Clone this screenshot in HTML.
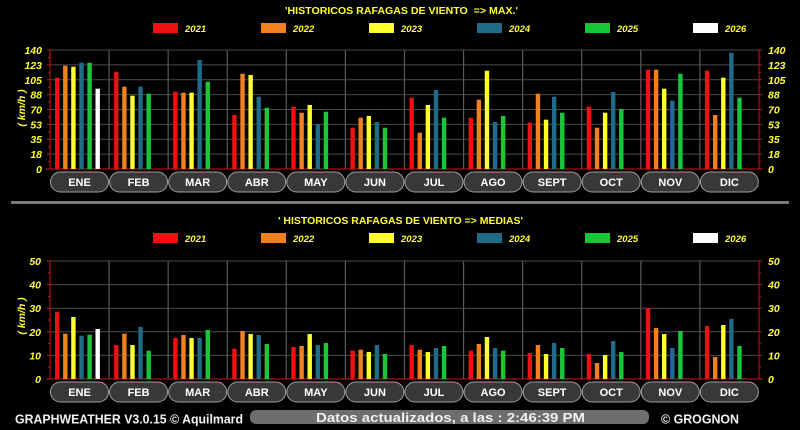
<!DOCTYPE html>
<html><head><meta charset="utf-8"><style>
html,body{margin:0;padding:0;background:#000;}
svg{display:block;}
.t{font-family:"Liberation Sans",sans-serif;font-weight:bold;fill:#ffff33;}
.ax{font-family:"Liberation Sans",sans-serif;font-weight:bold;font-style:italic;font-size:10.5px;fill:#ffff33;}
.lg{font-family:"Liberation Sans",sans-serif;font-weight:bold;font-style:italic;font-size:9.5px;fill:#ffff33;}
.ml{font-family:"Liberation Sans",sans-serif;font-weight:bold;font-size:11px;fill:#ffffff;text-anchor:middle;}
.ft{font-family:"Liberation Sans",sans-serif;font-weight:bold;font-size:12.5px;fill:#f0f0f0;}
.g line{stroke:#4a4a4a;stroke-width:1;}
.r{fill:#ee1111}.o{fill:#f08020}.y{fill:#ffff30}.b{fill:#206a8a}.gr{fill:#18c838}.w{fill:#ffffff}
.pill{fill:#383838;stroke:#a0a0a0;stroke-width:1;}
</style></head><body>
<svg width="800" height="430" viewBox="0 0 800 430" xmlns="http://www.w3.org/2000/svg">
<rect width="800" height="430" fill="#000"/>

<!-- ===== TOP CHART ===== -->
<text class="t" x="285" y="14" font-size="10.5" textLength="233" lengthAdjust="spacingAndGlyphs" xml:space="preserve">'HISTORICOS RAFAGAS DE VIENTO  =&gt; MAX.'</text>
<g>
<rect x="153" y="23" width="25" height="10" fill="#ee1111"/><text class="lg" x="185" y="32">2021</text>
<rect x="261" y="23" width="25" height="10" fill="#f08020"/><text class="lg" x="293" y="32">2022</text>
<rect x="369" y="23" width="25" height="10" fill="#ffff30"/><text class="lg" x="401" y="32">2023</text>
<rect x="477" y="23" width="25" height="10" fill="#206a8a"/><text class="lg" x="509" y="32">2024</text>
<rect x="585" y="23" width="25" height="10" fill="#18c838"/><text class="lg" x="617" y="32">2025</text>
<rect x="693" y="23" width="25" height="10" fill="#ffffff"/><text class="lg" x="725" y="32">2026</text>
</g>
<g class="g">
<line x1="50" y1="50" x2="759" y2="50"/>
<line x1="50" y1="64.9" x2="759" y2="64.9"/>
<line x1="50" y1="79.75" x2="759" y2="79.75"/>
<line x1="50" y1="94.6" x2="759" y2="94.6"/>
<line x1="50" y1="109.5" x2="759" y2="109.5"/>
<line x1="50" y1="124.4" x2="759" y2="124.4"/>
<line x1="50" y1="139.25" x2="759" y2="139.25"/>
<line x1="50" y1="154.1" x2="759" y2="154.1"/>
</g>
<g stroke="#5a5a5a" stroke-width="1.2">
<line x1="109.08" y1="50" x2="109.08" y2="169"/>
<line x1="168.16" y1="50" x2="168.16" y2="169"/>
<line x1="227.24" y1="50" x2="227.24" y2="169"/>
<line x1="286.32" y1="50" x2="286.32" y2="169"/>
<line x1="345.4" y1="50" x2="345.4" y2="169"/>
<line x1="404.48" y1="50" x2="404.48" y2="169"/>
<line x1="463.56" y1="50" x2="463.56" y2="169"/>
<line x1="522.64" y1="50" x2="522.64" y2="169"/>
<line x1="581.72" y1="50" x2="581.72" y2="169"/>
<line x1="640.8" y1="50" x2="640.8" y2="169"/>
<line x1="699.88" y1="50" x2="699.88" y2="169"/>
</g>
<!-- axes -->
<g stroke="#d01010" stroke-width="1">
<line x1="50" y1="50" x2="50" y2="169"/>
<line x1="759" y1="50" x2="759" y2="169"/>
<line x1="46" y1="169" x2="763" y2="169"/>
<line x1="47" y1="50" x2="50" y2="50"/><line x1="48" y1="57.4" x2="50" y2="57.4"/>
<line x1="47" y1="64.9" x2="50" y2="64.9"/><line x1="48" y1="72.3" x2="50" y2="72.3"/>
<line x1="47" y1="79.75" x2="50" y2="79.75"/><line x1="48" y1="87.2" x2="50" y2="87.2"/>
<line x1="47" y1="94.6" x2="50" y2="94.6"/><line x1="48" y1="102" x2="50" y2="102"/>
<line x1="47" y1="109.5" x2="50" y2="109.5"/><line x1="48" y1="117" x2="50" y2="117"/>
<line x1="47" y1="124.4" x2="50" y2="124.4"/><line x1="48" y1="131.8" x2="50" y2="131.8"/>
<line x1="47" y1="139.25" x2="50" y2="139.25"/><line x1="48" y1="146.7" x2="50" y2="146.7"/>
<line x1="47" y1="154.1" x2="50" y2="154.1"/><line x1="48" y1="161.5" x2="50" y2="161.5"/>
<line x1="759" y1="50" x2="762" y2="50"/><line x1="759" y1="57.4" x2="761" y2="57.4"/>
<line x1="759" y1="64.9" x2="762" y2="64.9"/><line x1="759" y1="72.3" x2="761" y2="72.3"/>
<line x1="759" y1="79.75" x2="762" y2="79.75"/><line x1="759" y1="87.2" x2="761" y2="87.2"/>
<line x1="759" y1="94.6" x2="762" y2="94.6"/><line x1="759" y1="102" x2="761" y2="102"/>
<line x1="759" y1="109.5" x2="762" y2="109.5"/><line x1="759" y1="117" x2="761" y2="117"/>
<line x1="759" y1="124.4" x2="762" y2="124.4"/><line x1="759" y1="131.8" x2="761" y2="131.8"/>
<line x1="759" y1="139.25" x2="762" y2="139.25"/><line x1="759" y1="146.7" x2="761" y2="146.7"/>
<line x1="759" y1="154.1" x2="762" y2="154.1"/><line x1="759" y1="161.5" x2="761" y2="161.5"/>
</g>
<g class="ax" text-anchor="end">
<text x="42" y="54">140</text><text x="42" y="69">123</text><text x="42" y="84">105</text>
<text x="42" y="98.5">88</text><text x="42" y="113.5">70</text><text x="42" y="128.5">53</text>
<text x="42" y="143">35</text><text x="42" y="158">18</text><text x="42" y="173">0</text>
</g>
<g class="ax" text-anchor="start">
<text x="768" y="54">140</text><text x="768" y="69">123</text><text x="768" y="84">105</text>
<text x="768" y="98.5">88</text><text x="768" y="113.5">70</text><text x="768" y="128.5">53</text>
<text x="768" y="143">35</text><text x="768" y="158">18</text><text x="768" y="173">0</text>
</g>
<text class="ax" font-size="10" transform="translate(25,108) rotate(-90)" text-anchor="middle" xml:space="preserve">( km/h )</text>

<!-- top bars -->
<g transform="translate(50,0)">
<rect class="r" x="5" y="77.7" width="4.4" height="91.3"/><rect class="o" x="13.1" y="65.7" width="4.4" height="103.3"/><rect class="y" x="21.2" y="66.7" width="4.4" height="102.3"/><rect class="b" x="29.3" y="62.7" width="4.4" height="106.3"/><rect class="gr" x="37.4" y="62.7" width="4.4" height="106.3"/><rect class="w" x="45.5" y="88.7" width="4.4" height="80.3"/>
<rect class="pill" x="0.5" y="172" width="58" height="20" rx="10"/><text class="ml" x="29.5" y="186">ENE</text></g>
<g transform="translate(109.08,0)">
<rect class="r" x="5" y="71.7" width="4.4" height="97.3"/><rect class="o" x="13.1" y="86.7" width="4.4" height="82.3"/><rect class="y" x="21.2" y="95.7" width="4.4" height="73.3"/><rect class="b" x="29.3" y="86.7" width="4.4" height="82.3"/><rect class="gr" x="37.4" y="93.7" width="4.4" height="75.3"/>
<rect class="pill" x="0.5" y="172" width="58" height="20" rx="10"/><text class="ml" x="29.5" y="186">FEB</text></g>
<g transform="translate(168.16,0)">
<rect class="r" x="5" y="91.7" width="4.4" height="77.3"/><rect class="o" x="13.1" y="92.7" width="4.4" height="76.3"/><rect class="y" x="21.2" y="92.7" width="4.4" height="76.3"/><rect class="b" x="29.3" y="60" width="4.4" height="109"/><rect class="gr" x="37.4" y="81.7" width="4.4" height="87.3"/>
<rect class="pill" x="0.5" y="172" width="58" height="20" rx="10"/><text class="ml" x="29.5" y="186">MAR</text></g>
<g transform="translate(227.24,0)">
<rect class="r" x="5" y="115" width="4.4" height="54"/><rect class="o" x="13.1" y="73.7" width="4.4" height="95.3"/><rect class="y" x="21.2" y="75" width="4.4" height="94"/><rect class="b" x="29.3" y="96.7" width="4.4" height="72.3"/><rect class="gr" x="37.4" y="107.7" width="4.4" height="61.3"/>
<rect class="pill" x="0.5" y="172" width="58" height="20" rx="10"/><text class="ml" x="29.5" y="186">ABR</text></g>
<g transform="translate(286.32,0)">
<rect class="r" x="5" y="106.7" width="4.4" height="62.3"/><rect class="o" x="13.1" y="112.7" width="4.4" height="56.3"/><rect class="y" x="21.2" y="105" width="4.4" height="64"/><rect class="b" x="29.3" y="124" width="4.4" height="45"/><rect class="gr" x="37.4" y="111.7" width="4.4" height="57.3"/>
<rect class="pill" x="0.5" y="172" width="58" height="20" rx="10"/><text class="ml" x="29.5" y="186">MAY</text></g>
<g transform="translate(345.4,0)">
<rect class="r" x="5" y="127.7" width="4.4" height="41.3"/><rect class="o" x="13.1" y="117.7" width="4.4" height="51.3"/><rect class="y" x="21.2" y="116" width="4.4" height="53"/><rect class="b" x="29.3" y="122" width="4.4" height="47"/><rect class="gr" x="37.4" y="127.7" width="4.4" height="41.3"/>
<rect class="pill" x="0.5" y="172" width="58" height="20" rx="10"/><text class="ml" x="29.5" y="186">JUN</text></g>
<g transform="translate(404.48,0)">
<rect class="r" x="5" y="97.7" width="4.4" height="71.3"/><rect class="o" x="13.1" y="132.7" width="4.4" height="36.3"/><rect class="y" x="21.2" y="105" width="4.4" height="64"/><rect class="b" x="29.3" y="90" width="4.4" height="79"/><rect class="gr" x="37.4" y="117.7" width="4.4" height="51.3"/>
<rect class="pill" x="0.5" y="172" width="58" height="20" rx="10"/><text class="ml" x="29.5" y="186">JUL</text></g>
<g transform="translate(463.56,0)">
<rect class="r" x="5" y="117.7" width="4.4" height="51.3"/><rect class="o" x="13.1" y="99.7" width="4.4" height="69.3"/><rect class="y" x="21.2" y="70.7" width="4.4" height="98.3"/><rect class="b" x="29.3" y="122" width="4.4" height="47"/><rect class="gr" x="37.4" y="116" width="4.4" height="53"/>
<rect class="pill" x="0.5" y="172" width="58" height="20" rx="10"/><text class="ml" x="29.5" y="186">AGO</text></g>
<g transform="translate(522.64,0)">
<rect class="r" x="5" y="122.7" width="4.4" height="46.3"/><rect class="o" x="13.1" y="93.7" width="4.4" height="75.3"/><rect class="y" x="21.2" y="119.7" width="4.4" height="49.3"/><rect class="b" x="29.3" y="96.7" width="4.4" height="72.3"/><rect class="gr" x="37.4" y="112.7" width="4.4" height="56.3"/>
<rect class="pill" x="0.5" y="172" width="58" height="20" rx="10"/><text class="ml" x="29.5" y="186">SEPT</text></g>
<g transform="translate(581.72,0)">
<rect class="r" x="5" y="106.7" width="4.4" height="62.3"/><rect class="o" x="13.1" y="127.7" width="4.4" height="41.3"/><rect class="y" x="21.2" y="112.7" width="4.4" height="56.3"/><rect class="b" x="29.3" y="92" width="4.4" height="77"/><rect class="gr" x="37.4" y="109" width="4.4" height="60"/>
<rect class="pill" x="0.5" y="172" width="58" height="20" rx="10"/><text class="ml" x="29.5" y="186">OCT</text></g>
<g transform="translate(640.8,0)">
<rect class="r" x="5" y="69.7" width="4.4" height="99.3"/><rect class="o" x="13.1" y="69.7" width="4.4" height="99.3"/><rect class="y" x="21.2" y="88.7" width="4.4" height="80.3"/><rect class="b" x="29.3" y="100.7" width="4.4" height="68.3"/><rect class="gr" x="37.4" y="73.7" width="4.4" height="95.3"/>
<rect class="pill" x="0.5" y="172" width="58" height="20" rx="10"/><text class="ml" x="29.5" y="186">NOV</text></g>
<g transform="translate(699.88,0)">
<rect class="r" x="5" y="70.7" width="4.4" height="98.3"/><rect class="o" x="13.1" y="115" width="4.4" height="54"/><rect class="y" x="21.2" y="77.7" width="4.4" height="91.3"/><rect class="b" x="29.3" y="52.7" width="4.4" height="116.3"/><rect class="gr" x="37.4" y="97.7" width="4.4" height="71.3"/>
<rect class="pill" x="0.5" y="172" width="58" height="20" rx="10"/><text class="ml" x="29.5" y="186">DIC</text></g>

<!-- separator -->
<rect x="11" y="201" width="778" height="3" fill="#7a7a7a"/>

<!-- ===== BOTTOM CHART ===== -->
<text class="t" x="278" y="224" font-size="10.5" textLength="245" lengthAdjust="spacingAndGlyphs">' HISTORICOS RAFAGAS DE VIENTO =&gt; MEDIAS'</text>
<g>
<rect x="153" y="233" width="25" height="10" fill="#ee1111"/><text class="lg" x="185" y="242">2021</text>
<rect x="261" y="233" width="25" height="10" fill="#f08020"/><text class="lg" x="293" y="242">2022</text>
<rect x="369" y="233" width="25" height="10" fill="#ffff30"/><text class="lg" x="401" y="242">2023</text>
<rect x="477" y="233" width="25" height="10" fill="#206a8a"/><text class="lg" x="509" y="242">2024</text>
<rect x="585" y="233" width="25" height="10" fill="#18c838"/><text class="lg" x="617" y="242">2025</text>
<rect x="693" y="233" width="25" height="10" fill="#ffffff"/><text class="lg" x="725" y="242">2026</text>
</g>
<g class="g">
<line x1="50" y1="261" x2="759" y2="261"/>
<line x1="50" y1="284.6" x2="759" y2="284.6"/>
<line x1="50" y1="308.2" x2="759" y2="308.2"/>
<line x1="50" y1="331.8" x2="759" y2="331.8"/>
<line x1="50" y1="355.4" x2="759" y2="355.4"/>
</g>
<g stroke="#5a5a5a" stroke-width="1.2">
<line x1="109.08" y1="261" x2="109.08" y2="379"/>
<line x1="168.16" y1="261" x2="168.16" y2="379"/>
<line x1="227.24" y1="261" x2="227.24" y2="379"/>
<line x1="286.32" y1="261" x2="286.32" y2="379"/>
<line x1="345.4" y1="261" x2="345.4" y2="379"/>
<line x1="404.48" y1="261" x2="404.48" y2="379"/>
<line x1="463.56" y1="261" x2="463.56" y2="379"/>
<line x1="522.64" y1="261" x2="522.64" y2="379"/>
<line x1="581.72" y1="261" x2="581.72" y2="379"/>
<line x1="640.8" y1="261" x2="640.8" y2="379"/>
<line x1="699.88" y1="261" x2="699.88" y2="379"/>
</g>
<g stroke="#d01010" stroke-width="1">
<line x1="50" y1="261" x2="50" y2="379"/>
<line x1="759" y1="261" x2="759" y2="379"/>
<line x1="46" y1="379" x2="763" y2="379"/>
<line x1="47" y1="261" x2="50" y2="261"/><line x1="48" y1="272.8" x2="50" y2="272.8"/>
<line x1="47" y1="284.6" x2="50" y2="284.6"/><line x1="48" y1="296.4" x2="50" y2="296.4"/>
<line x1="47" y1="308.2" x2="50" y2="308.2"/><line x1="48" y1="320" x2="50" y2="320"/>
<line x1="47" y1="331.8" x2="50" y2="331.8"/><line x1="48" y1="343.6" x2="50" y2="343.6"/>
<line x1="47" y1="355.4" x2="50" y2="355.4"/><line x1="48" y1="367.2" x2="50" y2="367.2"/>
<line x1="759" y1="261" x2="762" y2="261"/><line x1="759" y1="272.8" x2="761" y2="272.8"/>
<line x1="759" y1="284.6" x2="762" y2="284.6"/><line x1="759" y1="296.4" x2="761" y2="296.4"/>
<line x1="759" y1="308.2" x2="762" y2="308.2"/><line x1="759" y1="320" x2="761" y2="320"/>
<line x1="759" y1="331.8" x2="762" y2="331.8"/><line x1="759" y1="343.6" x2="761" y2="343.6"/>
<line x1="759" y1="355.4" x2="762" y2="355.4"/><line x1="759" y1="367.2" x2="761" y2="367.2"/>
</g>
<g class="ax" text-anchor="end">
<text x="41" y="265">50</text><text x="41" y="288.6">40</text><text x="41" y="312.2">30</text>
<text x="41" y="335.8">20</text><text x="41" y="359.4">10</text><text x="41" y="383">0</text>
</g>
<g class="ax" text-anchor="start">
<text x="768" y="265">50</text><text x="768" y="288.6">40</text><text x="768" y="312.2">30</text>
<text x="768" y="335.8">20</text><text x="768" y="359.4">10</text><text x="768" y="383">0</text>
</g>
<text class="ax" font-size="10" transform="translate(25,316) rotate(-90)" text-anchor="middle" xml:space="preserve">( km/h )</text>

<!-- bottom bars -->
<g transform="translate(50,0)">
<rect class="r" x="5" y="311.7" width="4.4" height="67.3"/><rect class="o" x="13.1" y="333.7" width="4.4" height="45.3"/><rect class="y" x="21.2" y="317" width="4.4" height="62"/><rect class="b" x="29.3" y="335.7" width="4.4" height="43.3"/><rect class="gr" x="37.4" y="334.7" width="4.4" height="44.3"/><rect class="w" x="45.5" y="329" width="4.4" height="50"/>
<rect class="pill" x="0.5" y="382" width="58" height="20" rx="10"/><text class="ml" x="29.5" y="396">ENE</text></g>
<g transform="translate(109.08,0)">
<rect class="r" x="5" y="345" width="4.4" height="34"/><rect class="o" x="13.1" y="333.7" width="4.4" height="45.3"/><rect class="y" x="21.2" y="345" width="4.4" height="34"/><rect class="b" x="29.3" y="327" width="4.4" height="52"/><rect class="gr" x="37.4" y="350.7" width="4.4" height="28.3"/>
<rect class="pill" x="0.5" y="382" width="58" height="20" rx="10"/><text class="ml" x="29.5" y="396">FEB</text></g>
<g transform="translate(168.16,0)">
<rect class="r" x="5" y="338" width="4.4" height="41"/><rect class="o" x="13.1" y="335" width="4.4" height="44"/><rect class="y" x="21.2" y="338" width="4.4" height="41"/><rect class="b" x="29.3" y="338" width="4.4" height="41"/><rect class="gr" x="37.4" y="330" width="4.4" height="49"/>
<rect class="pill" x="0.5" y="382" width="58" height="20" rx="10"/><text class="ml" x="29.5" y="396">MAR</text></g>
<g transform="translate(227.24,0)">
<rect class="r" x="5" y="348.7" width="4.4" height="30.3"/><rect class="o" x="13.1" y="331" width="4.4" height="48"/><rect class="y" x="21.2" y="334" width="4.4" height="45"/><rect class="b" x="29.3" y="335" width="4.4" height="44"/><rect class="gr" x="37.4" y="344" width="4.4" height="35"/>
<rect class="pill" x="0.5" y="382" width="58" height="20" rx="10"/><text class="ml" x="29.5" y="396">ABR</text></g>
<g transform="translate(286.32,0)">
<rect class="r" x="5" y="347" width="4.4" height="32"/><rect class="o" x="13.1" y="346" width="4.4" height="33"/><rect class="y" x="21.2" y="334" width="4.4" height="45"/><rect class="b" x="29.3" y="345" width="4.4" height="34"/><rect class="gr" x="37.4" y="343" width="4.4" height="36"/>
<rect class="pill" x="0.5" y="382" width="58" height="20" rx="10"/><text class="ml" x="29.5" y="396">MAY</text></g>
<g transform="translate(345.4,0)">
<rect class="r" x="5" y="350.7" width="4.4" height="28.3"/><rect class="o" x="13.1" y="349.7" width="4.4" height="29.3"/><rect class="y" x="21.2" y="352" width="4.4" height="27"/><rect class="b" x="29.3" y="345" width="4.4" height="34"/><rect class="gr" x="37.4" y="354" width="4.4" height="25"/>
<rect class="pill" x="0.5" y="382" width="58" height="20" rx="10"/><text class="ml" x="29.5" y="396">JUN</text></g>
<g transform="translate(404.48,0)">
<rect class="r" x="5" y="345" width="4.4" height="34"/><rect class="o" x="13.1" y="349.7" width="4.4" height="29.3"/><rect class="y" x="21.2" y="352" width="4.4" height="27"/><rect class="b" x="29.3" y="348" width="4.4" height="31"/><rect class="gr" x="37.4" y="346" width="4.4" height="33"/>
<rect class="pill" x="0.5" y="382" width="58" height="20" rx="10"/><text class="ml" x="29.5" y="396">JUL</text></g>
<g transform="translate(463.56,0)">
<rect class="r" x="5" y="350.7" width="4.4" height="28.3"/><rect class="o" x="13.1" y="344" width="4.4" height="35"/><rect class="y" x="21.2" y="337" width="4.4" height="42"/><rect class="b" x="29.3" y="348" width="4.4" height="31"/><rect class="gr" x="37.4" y="350.7" width="4.4" height="28.3"/>
<rect class="pill" x="0.5" y="382" width="58" height="20" rx="10"/><text class="ml" x="29.5" y="396">AGO</text></g>
<g transform="translate(522.64,0)">
<rect class="r" x="5" y="353" width="4.4" height="26"/><rect class="o" x="13.1" y="345" width="4.4" height="34"/><rect class="y" x="21.2" y="354" width="4.4" height="25"/><rect class="b" x="29.3" y="343" width="4.4" height="36"/><rect class="gr" x="37.4" y="348" width="4.4" height="31"/>
<rect class="pill" x="0.5" y="382" width="58" height="20" rx="10"/><text class="ml" x="29.5" y="396">SEPT</text></g>
<g transform="translate(581.72,0)">
<rect class="r" x="5" y="354" width="4.4" height="25"/><rect class="o" x="13.1" y="363" width="4.4" height="16"/><rect class="y" x="21.2" y="355" width="4.4" height="24"/><rect class="b" x="29.3" y="341" width="4.4" height="38"/><rect class="gr" x="37.4" y="352" width="4.4" height="27"/>
<rect class="pill" x="0.5" y="382" width="58" height="20" rx="10"/><text class="ml" x="29.5" y="396">OCT</text></g>
<g transform="translate(640.8,0)">
<rect class="r" x="5" y="308.3" width="4.4" height="70.7"/><rect class="o" x="13.1" y="328" width="4.4" height="51"/><rect class="y" x="21.2" y="334" width="4.4" height="45"/><rect class="b" x="29.3" y="348" width="4.4" height="31"/><rect class="gr" x="37.4" y="331" width="4.4" height="48"/>
<rect class="pill" x="0.5" y="382" width="58" height="20" rx="10"/><text class="ml" x="29.5" y="396">NOV</text></g>
<g transform="translate(699.88,0)">
<rect class="r" x="5" y="326" width="4.4" height="53"/><rect class="o" x="13.1" y="357" width="4.4" height="22"/><rect class="y" x="21.2" y="325" width="4.4" height="54"/><rect class="b" x="29.3" y="319" width="4.4" height="60"/><rect class="gr" x="37.4" y="346" width="4.4" height="33"/>
<rect class="pill" x="0.5" y="382" width="58" height="20" rx="10"/><text class="ml" x="29.5" y="396">DIC</text></g>

<!-- footer -->
<text class="ft" x="15" y="423.5" textLength="228" lengthAdjust="spacingAndGlyphs">GRAPHWEATHER V3.0.15 © Aquilmard</text>
<rect x="250" y="410" width="399" height="14" rx="6" fill="#6e6e6e"/>
<text class="ft" x="316" y="422" font-size="13" fill="#ffffff" textLength="269" lengthAdjust="spacingAndGlyphs">Datos actualizados, a las : 2:46:39 PM</text>
<text class="ft" x="661" y="423.5" textLength="78" lengthAdjust="spacingAndGlyphs">© GROGNON</text>
</svg>
</body></html>
